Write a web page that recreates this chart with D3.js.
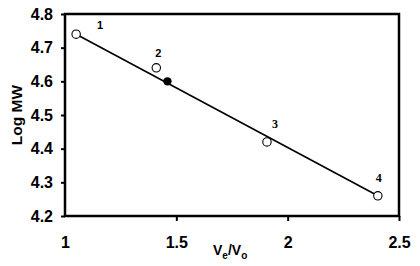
<!DOCTYPE html>
<html>
<head>
<meta charset="utf-8">
<script src="https://cdn.jsdelivr.net/npm/d3@7"></script>
<style>
  body { margin: 0; background: #fff; }
  text { font-family: "Liberation Sans", Arial, sans-serif; font-weight: bold; }
</style>
</head>
<body>
<div id="chart"></div>
<script>
// open markers (standards) and their labels
var ptX = [1.05, 1.41, 1.907, 2.405];
var ptY = [4.74, 4.64, 4.42, 4.26];
var ptLabels = ["1", "2", "3", "4"];
// filled marker (unknown)
var unkX = [1.46];
var unkY = [4.60];
// regression line end points
var lineX = [1.05, 2.405];
var lineY = [4.74, 4.26];

var xTicks = [1, 1.5, 2, 2.5];
var yTicks = [4.2, 4.3, 4.4, 4.5, 4.6, 4.7, 4.8];

var width = 420, height = 266;
var margin = {left: 65, right: 20, top: 14, bottom: 50};

var svg = d3.select("#chart").append("svg")
    .attr("width", width)
    .attr("height", height);

var x = d3.scaleLinear().domain([1, 2.5]).range([margin.left, width - margin.right - 1]);
var y = d3.scaleLinear().domain([4.2, 4.8]).range([height - margin.bottom, margin.top]);

// y axis
var yAxis = svg.append("g")
    .attr("transform", "translate(" + margin.left + ",0)")
    .call(d3.axisLeft(y).tickValues(yTicks).tickFormat(d3.format(".1f")).tickSize(4).tickSizeOuter(0));
yAxis.selectAll("text").attr("font-size", 16).attr("fill", "#000").attr("x", -12).attr("font-family", null);
yAxis.selectAll("line").attr("stroke-width", 2);

// x axis
var xAxis = svg.append("g")
    .attr("transform", "translate(0," + (height - margin.bottom) + ")")
    .call(d3.axisBottom(x).tickValues(xTicks).tickFormat(d => d).tickSize(5).tickSizeOuter(0));
xAxis.selectAll("text").attr("font-size", 16).attr("fill", "#000").attr("y", 21).attr("font-family", null);
xAxis.selectAll("line").attr("stroke-width", 2);
xAxis.selectAll(".tick").filter(d => d === 1).select("line").remove();

svg.selectAll(".domain").remove();

// plot frame
svg.append("rect")
    .attr("x", x(1))
    .attr("y", y(4.8))
    .attr("width", x(2.5) - x(1))
    .attr("height", y(4.2) - y(4.8))
    .attr("fill", "none")
    .attr("stroke", "#000")
    .attr("stroke-width", 2.5);

// fit line
svg.append("line")
    .attr("x1", x(lineX[0])).attr("y1", y(lineY[0]))
    .attr("x2", x(lineX[1])).attr("y2", y(lineY[1]))
    .attr("stroke", "#000")
    .attr("stroke-width", 1.6);

// open points
svg.selectAll("circle.std")
    .data(ptX)
    .join("circle")
    .attr("class", "std")
    .attr("cx", d => x(d))
    .attr("cy", (d, i) => y(ptY[i]))
    .attr("r", 4.2)
    .attr("fill", "#fff")
    .attr("stroke", "#000")
    .attr("stroke-width", 1.1);

svg.selectAll("circle.unk")
    .data(unkX)
    .join("circle")
    .attr("class", "unk")
    .attr("cx", d => x(d))
    .attr("cy", (d, i) => y(unkY[i]))
    .attr("r", 4.2)
    .attr("fill", "#000");

// point labels
var labelDx = [24, 2, 8, 1];
var labelDy = [-5, -11, -14, -14];
var labelFont = ["Liberation Sans", "Liberation Sans", "Liberation Serif", "Liberation Serif"];
svg.selectAll("text.plabel")
    .data(ptLabels)
    .join("text")
    .attr("class", "plabel")
    .attr("x", (d, i) => x(ptX[i]) + labelDx[i])
    .attr("y", (d, i) => y(ptY[i]) + labelDy[i])
    .attr("text-anchor", "middle")
    .attr("font-size", (d, i) => i < 2 ? 11 : 12)
    .style("font-family", (d, i) => labelFont[i])
    .text(d => d);

// axis titles
svg.append("text")
    .attr("transform", "translate(22," + ((y(4.8) + y(4.2)) / 2) + ") rotate(-90)")
    .attr("text-anchor", "middle")
    .attr("font-size", 15.5)
    .text("Log MW");

var xt = svg.append("text")
    .attr("x", 213)
    .attr("y", 255)
    .attr("font-size", 14);
xt.append("tspan").text("V");
xt.append("tspan").attr("font-size", 10).attr("dy", 4).text("e");
xt.append("tspan").attr("dy", -4).text("/V");
xt.append("tspan").attr("font-size", 10).attr("dy", 4).text("o");
</script>
</body>
</html>
